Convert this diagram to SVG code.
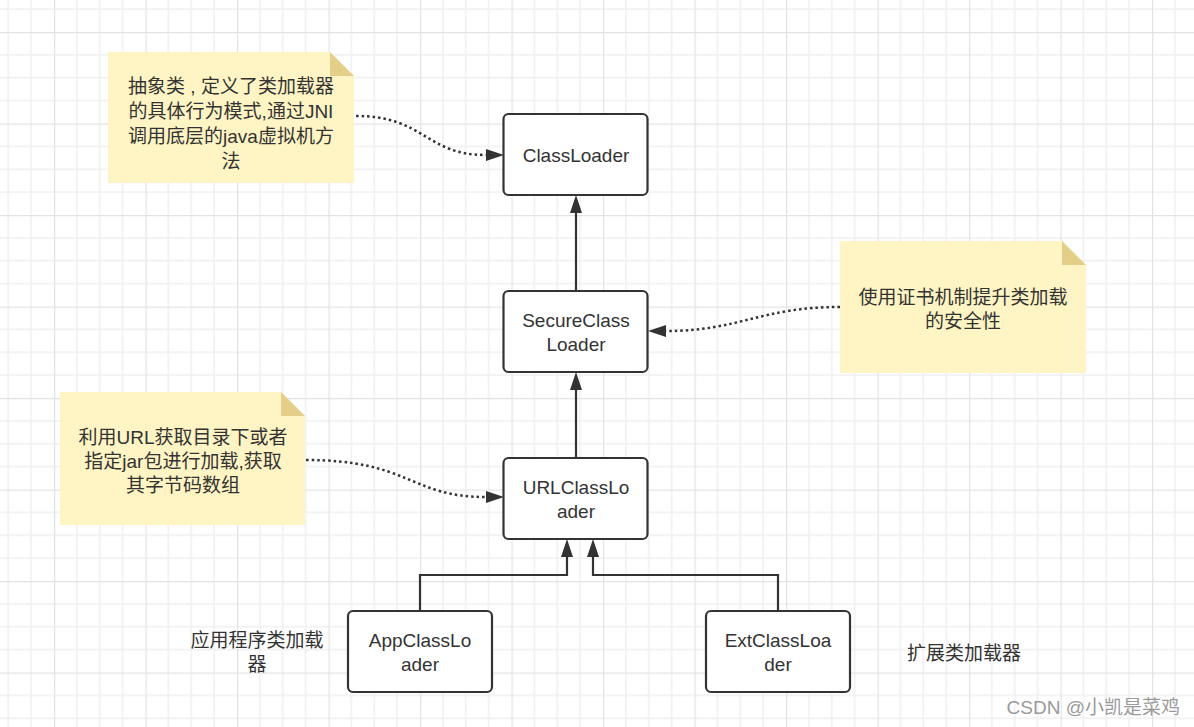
<svg xmlns="http://www.w3.org/2000/svg" width="1194" height="727" viewBox="0 0 1194 727">
<defs>
<pattern id="grid" x="54" y="32" width="91.5" height="91.5" patternUnits="userSpaceOnUse">
<path d="M22.875 0V91.5M45.75 0V91.5M68.625 0V91.5M0 22.875H91.5M0 45.75H91.5M0 68.625H91.5" stroke="#f0f0f0" stroke-width="1.5" fill="none"/>
<path d="M0.5 0V91.5M0 0.5H91.5" stroke="#e3e3e3" stroke-width="1.5" fill="none"/>
</pattern>
<marker id="arr" markerWidth="18" markerHeight="12" refX="0" refY="6" orient="auto" markerUnits="userSpaceOnUse">
<path d="M0,0 L18,6 L0,12 Z" fill="#333333"/>
</marker>
</defs>
<style>
.box{fill:#ffffff;stroke:#333333;stroke-width:2.2}
.note{fill:#fff4c3}
.fold{fill:#e3cf88}
.t{font-family:"Liberation Sans","Noto Sans CJK SC",sans-serif;font-size:19px;fill:#333333;text-anchor:middle}
.edge{fill:none;stroke:#333333;stroke-width:2.2}
.dot{fill:none;stroke:#333333;stroke-width:2.5;stroke-dasharray:2.5 3}
.wm{font-family:"Liberation Sans","Noto Sans CJK SC",sans-serif;font-size:19px;fill:#9a9a9a;text-anchor:end}
</style>
<rect width="1194" height="727" fill="#ffffff"/>
<rect width="1194" height="727" fill="url(#grid)"/>

<g id="connectors">
<path class="edge" d="M576,291 V213" marker-end="url(#arr)"/>
<path class="edge" d="M576,458 V390" marker-end="url(#arr)"/>
<path class="edge" d="M420,611 V575 H567 V557" marker-end="url(#arr)"/>
<path class="edge" d="M778,611 V575 H593 V557" marker-end="url(#arr)"/>
<path class="dot" d="M356,116 C425,116 425,155 486,155" marker-end="url(#arr)"/>
<path class="dot" d="M840,307 C760,307 740,331 666,331" marker-end="url(#arr)"/>
<path class="dot" d="M306,460 C410,460 410,497 486,497" marker-end="url(#arr)"/>
</g>

<g id="note-classloader">
<path class="note" d="M108,52 H330 L354,76 V183 H108 Z"/>
<path class="fold" d="M330,52 L354,76 H330 Z"/>
<text class="t" x="231" y="93">抽象类 , 定义了类加载器</text>
<text class="t" x="231" y="118">的具体行为模式,通过JNI</text>
<text class="t" x="231" y="143">调用底层的java虚拟机方</text>
<text class="t" x="231" y="168">法</text>
</g>

<g id="note-secure">
<path class="note" d="M840,241 H1062 L1086,265 V373 H840 Z"/>
<path class="fold" d="M1062,241 L1086,265 H1062 Z"/>
<text class="t" x="963" y="304">使用证书机制提升类加载</text>
<text class="t" x="963" y="328">的安全性</text>
</g>

<g id="note-url">
<path class="note" d="M60,392 H281 L305,416 V525 H60 Z"/>
<path class="fold" d="M281,392 L305,416 H281 Z"/>
<text class="t" x="183" y="444">利用URL获取目录下或者</text>
<text class="t" x="183" y="468">指定jar包进行加载,获取</text>
<text class="t" x="183" y="492">其字节码数组</text>
</g>

<g id="ClassLoader">
<rect class="box" x="503.5" y="114" width="144" height="81" rx="5"/>
<text class="t" x="576" y="162">ClassLoader</text>
</g>

<g id="SecureClassLoader">
<rect class="box" x="503.5" y="291" width="144" height="81" rx="5"/>
<text class="t" x="576" y="327">SecureClass</text>
<text class="t" x="576" y="351">Loader</text>
</g>

<g id="URLClassLoader">
<rect class="box" x="503.5" y="458" width="144" height="81" rx="5"/>
<text class="t" x="576" y="494">URLClassLo</text>
<text class="t" x="576" y="518">ader</text>
</g>

<g id="AppClassLoader">
<rect class="box" x="348" y="611" width="144" height="81" rx="5"/>
<text class="t" x="420" y="647">AppClassLo</text>
<text class="t" x="420" y="671">ader</text>
</g>

<g id="ExtClassLoader">
<rect class="box" x="706" y="611" width="144" height="81" rx="5"/>
<text class="t" x="778" y="647">ExtClassLoa</text>
<text class="t" x="778" y="671">der</text>
</g>

<g id="label-app">
<text class="t" x="257" y="647">应用程序类加载</text>
<text class="t" x="257" y="671">器</text>
</g>

<g id="label-ext">
<text class="t" x="964" y="660">扩展类加载器</text>
</g>

<text class="wm" x="1180" y="714">CSDN @小凯是菜鸡</text>
</svg>
